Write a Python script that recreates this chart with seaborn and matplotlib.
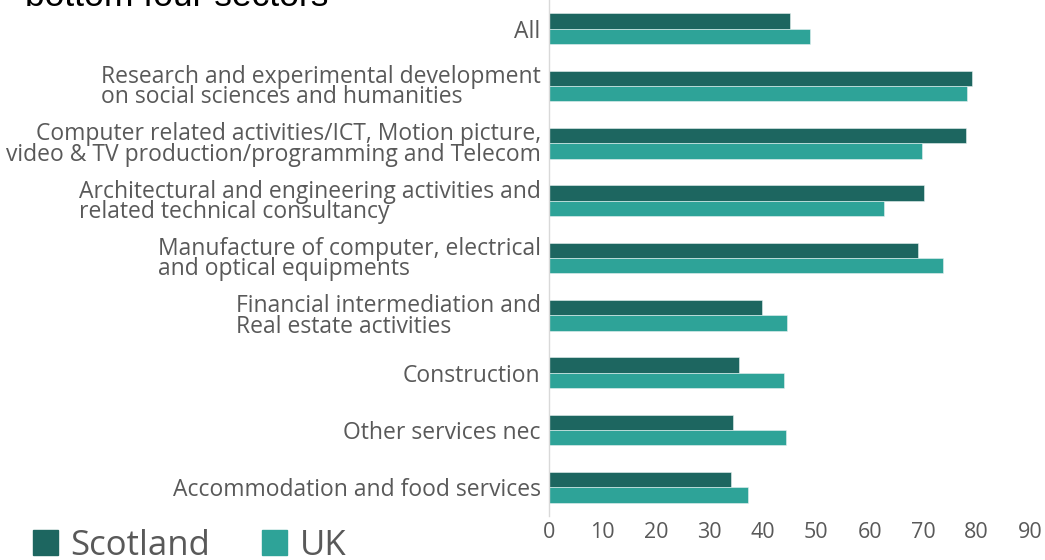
import pandas as pd
import matplotlib.pyplot as plt
import seaborn as sns
from matplotlib.patches import Patch

# Data
categories = [
    "All",
    "Research and experimental development\non social sciences and humanities",
    "Computer related activities/ICT, Motion picture,\nvideo & TV production/programming and Telecom",
    "Architectural and engineering activities and\nrelated technical consultancy",
    "Manufacture of computer, electrical\nand optical equipments",
    "Financial intermediation and\nReal estate activities",
    "Construction",
    "Other services nec",
    "Accommodation and food services",
]
scotland = [45.0, 79.1, 78.0, 70.1, 69.0, 39.9, 35.6, 34.5, 34.0]
uk = [48.9, 78.2, 69.8, 62.7, 73.7, 44.6, 44.0, 44.4, 37.3]
series = ["Scotland", "UK"]
colors = ["#1d6660", "#2ea398"]

sns.set_style("white")
plt.rcParams['font.family'] = ['Open Sans', 'DejaVu Sans']

df = pd.DataFrame({
    "category": categories * 2,
    "value": scotland + uk,
    "series": ["Scotland"] * len(categories) + ["UK"] * len(categories),
})

fig = plt.figure(figsize=(10.45, 5.6), dpi=100)
ax = fig.add_axes([549 / 1045, 1 - 516 / 560, (1030 - 549) / 1045, 516 / 560])

sns.barplot(data=df, y="category", x="value", hue="series", order=categories,
            hue_order=series, palette=colors, saturation=1, orient="h", width=0.53,
            edgecolor="#e8f2f1", linewidth=0.4, legend=False, ax=ax)

ax.set_xlim(0, 90)
ax.set_ylim(8.5, -0.5)
ax.set_xticks(range(0, 91, 10))
ax.set_xlabel("")
ax.set_ylabel("")
ax.tick_params(axis="x", labelsize=15.5, colors="#595959", length=0, pad=4)
ax.tick_params(axis="y", labelsize=16.5, colors="#595959", length=0, pad=6)
for lab in ax.get_yticklabels():
    lab.set_multialignment("left")
    if lab.get_text().startswith("Computer"):
        lab.set_multialignment("right")
    lab.set_linespacing(0.8)

for s in ["top", "right", "bottom"]:
    ax.spines[s].set_visible(False)
ax.spines["left"].set_color("#d9d9d9")
ax.spines["left"].set_linewidth(1)

# title, mostly cut off at the top of the image
fig.text(25 / 1045, 1 - 6 / 560, "Scotland compared with the UK: top four and\nbottom four sectors",
         fontsize=25.5, family="Liberation Sans", color="black", ha="left", va="baseline")

handles = [Patch(facecolor=c, edgecolor=c) for c in colors]
fig.legend(handles, series, loc="lower left", bbox_to_anchor=(2 / 1045, -34 / 560),
           ncol=2, frameon=False, fontsize=25, handlelength=0.72, handleheight=0.72,
           handletextpad=0.35, columnspacing=1.5, labelcolor="#595959")

fig.savefig("out.png", dpi=100)
